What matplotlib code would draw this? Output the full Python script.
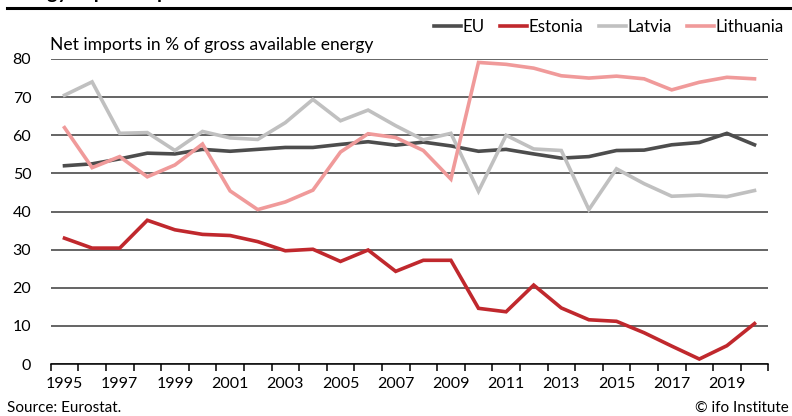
import matplotlib
matplotlib.use('Agg')
import matplotlib.pyplot as plt
from matplotlib.lines import Line2D

plt.rcParams['font.family'] = ['Lato', 'DejaVu Sans']

years = list(range(1995, 2021))
eu = [52.0, 52.5, 53.8, 55.3, 55.1, 56.3, 55.8, 56.3, 56.8, 56.8, 57.6, 58.3, 57.4,
      58.2, 57.2, 55.8, 56.3, 55.1, 54.0, 54.4, 56.0, 56.1, 57.5, 58.1, 60.5, 57.5]
estonia = [33.0, 30.4, 30.4, 37.7, 35.2, 34.0, 33.7, 32.1, 29.7, 30.1, 26.9, 29.9, 24.3,
           27.2, 27.2, 14.6, 13.7, 20.7, 14.7, 11.6, 11.2, 8.2, 4.7, 1.3, 4.8, 10.6]
latvia = [70.5, 74.0, 60.5, 60.7, 56.0, 61.0, 59.3, 58.9, 63.3, 69.4, 63.8, 66.6, 62.5,
          58.8, 60.5, 45.3, 60.0, 56.4, 56.0, 40.5, 51.2, 47.3, 44.0, 44.3, 43.9, 45.5]
lithuania = [62.0, 51.5, 54.4, 49.1, 52.2, 57.7, 45.4, 40.5, 42.5, 45.6, 55.6, 60.4, 59.4,
             56.0, 48.5, 79.1, 78.6, 77.6, 75.6, 75.0, 75.5, 74.8, 71.9, 73.9, 75.2, 74.8]

series = [('EU', eu, '#4d4d4d'), ('Estonia', estonia, '#c0282d'),
          ('Latvia', latvia, '#c0c0c0'), ('Lithuania', lithuania, '#f09a9a')]

W, H = 792, 416
fig = plt.figure(figsize=(W / 100, H / 100), dpi=100)
ax = fig.add_axes([50.7 / W, 1 - 364 / H, (768.3 - 50.7) / W, (364 - 59) / H])

x = list(range(len(years)))
for name, vals, col in series:
    ax.plot(x, vals, color=col, lw=2.6, label=name, solid_joinstyle='miter', zorder=3)

ax.set_xlim(-0.5, len(years) - 0.5)
ax.set_ylim(0, 80)
ax.set_yticks(range(0, 81, 10))
ax.yaxis.grid(True, color='#4a4a4a', lw=1.2)
ax.set_axisbelow(True)
ax.tick_params(axis='y', length=0, labelsize=11.5, pad=14)
for s in ['top', 'right', 'left']:
    ax.spines[s].set_visible(False)
ax.spines['bottom'].set_linewidth(1.1)

ax.set_xticks([i - 0.5 for i in range(len(years) + 1)], minor=False)
ax.set_xticklabels([])
ax.set_xticks(x[::2], minor=True)
ax.set_xticklabels([str(y) for y in years[::2]], minor=True)
ax.tick_params(axis='x', which='major', length=5, width=1.1, direction='out')
ax.tick_params(axis='x', which='minor', length=0, labelsize=11.5, pad=9)

fig.text(50 / W, 1 - 45 / H, 'Net imports in % of gross available energy',
         fontsize=12.6, va='center', ha='left')

handles = [Line2D([0], [0], color=c, lw=2.6) for _, _, c in series]
fig.legend(handles, [n for n, _, _ in series], loc='center right',
           bbox_to_anchor=(784 / W, 1 - 27 / H), ncol=4, frameon=False,
           fontsize=12.2, handlelength=1.6, handletextpad=0.1, columnspacing=0.9,
           borderaxespad=0, borderpad=0)

fig.add_artist(Line2D([7 / W, 1], [1 - 7.5 / H, 1 - 7.5 / H], color='black', lw=2.2,
                      transform=fig.transFigure))
fig.text(7 / W, 1 + 1.5 / H, 'Energy import dependence', fontsize=14, fontweight='bold',
         va='baseline', ha='left')

fig.text(7 / W, 1 - 408 / H, 'Source: Eurostat.', fontsize=11, va='center', ha='left')
fig.text(789 / W, 1 - 408 / H, '© ifo Institute', fontsize=11, va='center', ha='right')

fig.savefig('out.png', dpi=100)
